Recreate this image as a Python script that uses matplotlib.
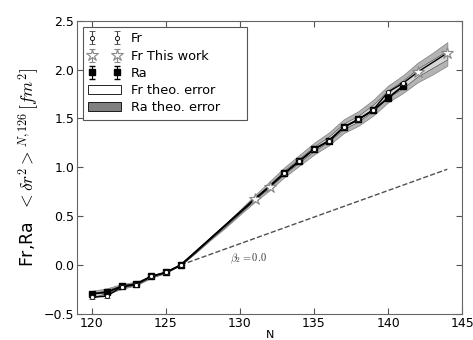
import matplotlib
matplotlib.use("Agg")
import matplotlib.pyplot as plt
from matplotlib.patches import Patch
import numpy as np

# Experimental data
fr_N = [120, 121, 122, 123, 124, 125, 126, 133, 134, 135, 136, 137, 138, 139, 140, 141]
fr_val = [-0.33, -0.32, -0.225, -0.20, -0.117, -0.076, 0.0, 0.94, 1.065, 1.185, 1.27, 1.41, 1.49, 1.59, 1.77, 1.86]
fr_err = [0.015] * len(fr_N)

frw_N = [131, 132, 142, 144]
frw_val = [0.68, 0.80, 1.975, 2.17]
frw_err = [0.015] * len(frw_N)

ra_N = [120, 121, 122, 123, 124, 125, 126, 133, 134, 135, 136, 137, 138, 139, 140, 141]
ra_val = [-0.295, -0.28, -0.22, -0.195, -0.117, -0.076, 0.0, 0.94, 1.06, 1.185, 1.27, 1.41, 1.49, 1.585, 1.71, 1.83]
ra_err = [0.015] * len(ra_N)

# Theory
theo_N = [120, 121, 122, 123, 124, 125, 126, 127, 128, 129, 130, 131, 132,
          133, 134, 135, 136, 137, 138, 139, 140, 141, 142, 143, 144]
fr_theo = [-0.31, -0.27, -0.22, -0.19, -0.12, -0.075, 0.0, 0.13, 0.27, 0.40, 0.54, 0.68, 0.81,
           0.95, 1.07, 1.19, 1.29, 1.42, 1.50, 1.61, 1.75, 1.85, 1.97, 2.06, 2.15]
fr_theo_err = [0.02, 0.015, 0.012, 0.01, 0.008, 0.004, 0.0, 0.004, 0.006, 0.008, 0.01, 0.012, 0.015,
               0.018, 0.02, 0.022, 0.025, 0.028, 0.03, 0.032, 0.035, 0.038, 0.04, 0.042, 0.045]
ra_theo = [-0.30, -0.27, -0.22, -0.19, -0.12, -0.075, 0.0, 0.13, 0.27, 0.40, 0.54, 0.68, 0.81,
           0.95, 1.07, 1.19, 1.29, 1.42, 1.50, 1.61, 1.75, 1.85, 1.97, 2.06, 2.16]
ra_theo_err = [0.035, 0.03, 0.025, 0.018, 0.012, 0.006, 0.0, 0.008, 0.015, 0.02, 0.025, 0.035, 0.045,
               0.05, 0.055, 0.06, 0.065, 0.07, 0.075, 0.08, 0.085, 0.09, 0.10, 0.11, 0.12]

beta_N = [126, 144]
beta_val = [0.0, 0.98]

plt.rcParams['mathtext.fontset'] = 'cm'
fig = plt.figure(figsize=(4.73, 3.40), dpi=100)
ax = fig.add_axes([0.163, 0.077, 0.814, 0.862])

rt = np.array(ra_theo); re = np.array(ra_theo_err)
ft = np.array(fr_theo); fe = np.array(fr_theo_err)
ax.fill_between(theo_N, rt - re, rt + re, facecolor='#b4b4b4', edgecolor='#8a8a8a', linewidth=0.6, zorder=1)
ax.fill_between(theo_N, ft - fe, ft + fe, facecolor='#d6d6d6', edgecolor='#404040', linewidth=0.4, zorder=2)

ax.plot(beta_N, beta_val, linestyle='--', color='#505050', linewidth=1.0, zorder=2)
ax.text(129.3, 0.04, r'$\beta_2=0.0$', fontsize=7.5, color='#333333')

# connecting lines
ax.plot(ra_N, ra_val, '-', color='black', lw=1.3, zorder=3)
fr_all_N = sorted(fr_N + frw_N)
fr_all_val = [dict(zip(fr_N + frw_N, fr_val + frw_val))[n] for n in fr_all_N]
ax.plot(fr_all_N, fr_all_val, '-', color='black', lw=1.0, zorder=3)

ax.errorbar(ra_N, ra_val, yerr=ra_err, fmt='s', color='black', mfc='black', mec='black',
            ms=4, capsize=2, elinewidth=0.8, zorder=3, label='Ra')
ax.errorbar(fr_N, fr_val, yerr=fr_err, fmt='o', color='#444444', mfc='white', mec='black',
            ms=3, mew=0.6, capsize=2, elinewidth=0.8, zorder=4, label='Fr')
ax.errorbar(frw_N, frw_val, yerr=frw_err, fmt='*', color='#888888', mfc='white', mec='#888888',
            ms=9, mew=0.8, capsize=2, elinewidth=0.8, zorder=5, label='Fr This work')

ax.set_xlim(119, 145)
ax.set_ylim(-0.5, 2.5)
ax.set_xticks([120, 125, 130, 135, 140, 145])
ax.set_yticks([-0.5, 0.0, 0.5, 1.0, 1.5, 2.0, 2.5])
ax.set_yticklabels(['\u22120.5', '0.0', '0.5', '1.0', '1.5', '2.0', '2.5'])
ax.tick_params(direction='in', top=True, right=True, labelsize=9, length=4, color='#555555', pad=2)
for s in ax.spines.values():
    s.set_color('#666666')
ax.set_xlabel('N', fontsize=8, labelpad=0)
ax.set_ylabel(r'Fr,Ra  $<\delta r^2>^{N,126}\,[fm^2]$', fontsize=12.5, labelpad=2)

h, l = ax.get_legend_handles_labels()
order = [l.index('Fr'), l.index('Fr This work'), l.index('Ra')]
handles = [h[i] for i in order] + [Patch(facecolor='white', edgecolor='black', lw=0.6),
                                   Patch(facecolor='#808080', edgecolor='black', lw=0.6)]
labels = ['Fr', 'Fr This work', 'Ra', 'Fr theo. error', 'Ra theo. error']
leg = ax.legend(handles, labels, loc='upper left', numpoints=2, fontsize=9.3,
                bbox_to_anchor=(0.0156, 0.35, 0.425, 0.628), mode='expand',
                fancybox=False, framealpha=1, edgecolor='#555555', handlelength=2.5,
                borderaxespad=0.0, labelspacing=0.33)
leg.get_frame().set_linewidth(0.8)

fig.savefig('out.png', dpi=100)
